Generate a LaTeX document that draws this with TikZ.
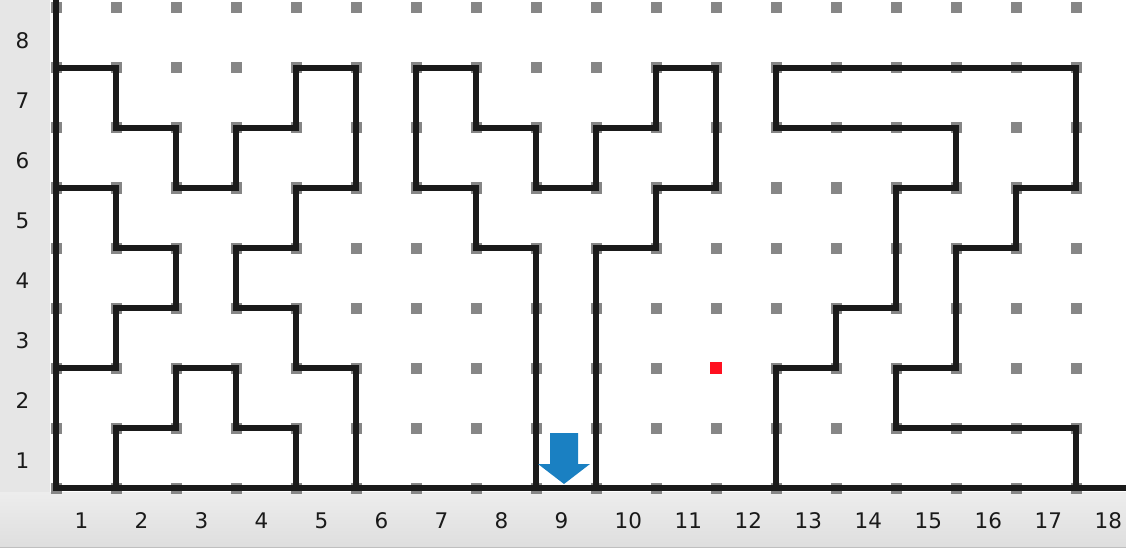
\documentclass[tikz,border=0pt]{standalone}
\usepackage{fontspec}
\setmainfont{DejaVu Sans}
\definecolor{wallc}{HTML}{1A1A1A}
\definecolor{dotc}{HTML}{868686}
\definecolor{stripc}{HTML}{E6E6E6}
\definecolor{arrowc}{HTML}{1A80C2}
\definecolor{redc}{HTML}{FF1020}
\definecolor{labc}{HTML}{1A1A1A}
\begin{document}
\begin{tikzpicture}[x=1pt,y=-1pt,
  wall/.style={line width=6.5pt, draw=wallc, line join=miter, line cap=rect},
  lab/.style={font=\fontsize{21.5pt}{25pt}\selectfont, inner sep=0pt, text=labc}]
\useasboundingbox (0,0) rectangle (1126,548);
\fill[white] (0,0) rectangle (1126,548);
\fill[stripc] (0,0) rectangle (50,548);
\shade[top color=black!7, bottom color=black!13] (0,492) rectangle (1126,548);
\draw[line width=1.2pt, black!25] (0,547.4) -- (1126,547.4);
\begin{scope}[shift={(56pt,-488pt)}, x=60pt, y=60pt]
  \foreach \i in {0,...,18} \foreach \j in {0,...,8}
    \fill[dotc] (\i,\j) +(-5.5pt,-5.5pt) rectangle +(5.5pt,5.5pt);
  \fill[redc] (11,2) +(-6pt,-6pt) rectangle +(6pt,6pt);
  % outer walls
  \draw[wall] (0,8.3) -- (0,0) -- (18.3,0);
  % left cluster
  \draw[wall] (0,7) -- (1,7) -- (1,6) -- (2,6) -- (2,5) -- (3,5) -- (3,6) -- (4,6) -- (4,7) -- (5,7) -- (5,5) -- (4,5) -- (4,4) -- (3,4) -- (3,3) -- (4,3) -- (4,2) -- (5,2) -- (5,0);
  \draw[wall] (0,5) -- (1,5) -- (1,4) -- (2,4) -- (2,3) -- (1,3) -- (1,2) -- (0,2);
  \draw[wall] (1,0) -- (1,1) -- (2,1) -- (2,2) -- (3,2) -- (3,1) -- (4,1) -- (4,0);
  % middle cluster
  \draw[wall] (8,0) -- (8,4) -- (7,4) -- (7,5) -- (6,5) -- (6,7) -- (7,7) -- (7,6) -- (8,6) -- (8,5) -- (9,5) -- (9,6) -- (10,6) -- (10,7) -- (11,7) -- (11,5) -- (10,5) -- (10,4) -- (9,4) -- (9,0);
  % right cluster
  \draw[wall] (12,0) -- (12,2) -- (13,2) -- (13,3) -- (14,3) -- (14,5) -- (15,5) -- (15,6) -- (12,6) -- (12,7) -- (17,7) -- (17,5) -- (16,5) -- (16,4) -- (15,4) -- (15,2) -- (14,2) -- (14,1) -- (17,1) -- (17,0);
\end{scope}
% entrance arrow
\fill[arrowc] (550,433) -- (578,433) -- (578,464) -- (590,464) -- (564,484) -- (538,464) -- (550,464) -- cycle;
% labels
\foreach \k in {1,...,8}
  \node[lab] (r\k) at (22.5, {488-60*(\k-1)-27}) {\k};
\foreach \k in {1,...,18}
  \node[lab, anchor=west] (c\k) at ({56+60*(\k-1)+18.5}, 521) {\k};
\end{tikzpicture}
\end{document}
